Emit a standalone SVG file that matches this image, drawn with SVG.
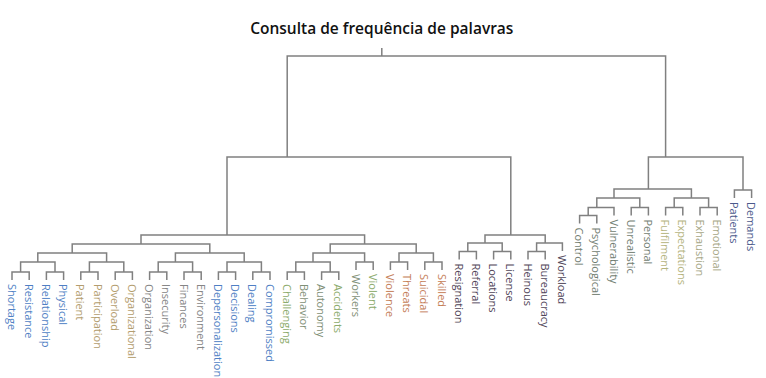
<svg xmlns="http://www.w3.org/2000/svg" width="766" height="378" viewBox="0 0 766 378">
<style>
.bg{fill:#ffffff}
.ln{fill:none;stroke:#808080;stroke-width:1.5;stroke-linejoin:miter}
.title{font-family:"Open Sans","Noto Sans","DejaVu Sans",sans-serif;font-weight:600;font-size:15.5px;fill:#111111}
.lbl{font-family:"Open Sans","Noto Sans","DejaVu Sans",sans-serif;font-size:11px}
.blue{fill:#4f7fc4}
.tan{fill:#b39d6e}
.gray{fill:#858585}
.lgreen{fill:#8cab6c}
.ggreen{fill:#7f9077}
.orange{fill:#c47d57}
.purple{fill:#4f4457}
.sage{fill:#717d71}
.olive{fill:#b5b47e}
.olive2{fill:#a7a786}
.navy{fill:#4c5a8c}
</style>
<rect class="bg" x="0" y="0" width="766" height="378"/>
<g id="title">
<text class="title" x="381.8" y="34" text-anchor="middle">Consulta de frequência de palavras</text>
</g>
<g id="connectors" class="ln">
<path d="M381.8 48V56M287.2 157V56H665.6V157"/>
<path d="M227 235V157H510.8V235"/>
<path d="M648.4 189V157H743V190"/>
<path d="M141 244V235H364.6V244"/>
<path d="M485 243V235H545.2V243"/>
<path d="M72.2 253V244H209.8V253"/>
<path d="M330.2 253V244H416.2V253"/>
<path d="M37.8 262V253H106.6V262"/>
<path d="M175.4 262V253H244.2V262"/>
<path d="M313 262V253H364.6V262"/>
<path d="M399 262V253H433.4V262"/>
<path d="M20.6 272V262H55V272"/>
<path d="M89.4 272V262H123.8V272"/>
<path d="M158.2 272V262H192.6V272"/>
<path d="M227 272V262H261.4V272"/>
<path d="M295.8 272V262H330.2V272"/>
<path d="M356 270V262H373.2V270"/>
<path d="M390.4 270V262H407.6V270"/>
<path d="M424.8 270V262H442V270"/>
<path d="M12 280V272H29.2V280"/>
<path d="M46.4 280V272H63.6V280"/>
<path d="M80.8 280V272H98V280"/>
<path d="M115.2 280V272H132.4V280"/>
<path d="M149.6 280V272H166.8V280"/>
<path d="M184 280V272H201.2V280"/>
<path d="M218.4 280V272H235.6V280"/>
<path d="M252.8 280V272H270V280"/>
<path d="M287.2 280V272H304.4V280"/>
<path d="M321.6 280V272H338.8V280"/>
<path d="M467.8 251.5V243H502.2V251.5"/>
<path d="M536.6 251.5V243H562.4V251"/>
<path d="M459.2 259.5V251.5H476.4V259.5"/>
<path d="M493.6 259.5V251.5H510.8V259.5"/>
<path d="M528 259.5V251.5H545.2V259.5"/>
<path d="M614 198V189H691.4V198"/>
<path d="M734.4 198V190H751.6V198"/>
<path d="M596.8 207.5V198H639.8V207.5"/>
<path d="M674.2 207.5V198H708.6V207.5"/>
<path d="M588.2 215.5V207.5H614V215.5"/>
<path d="M631.2 215.5V207.5H648.4V215.5"/>
<path d="M665.6 215.5V207.5H682.8V215.5"/>
<path d="M700 215.5V207.5H717.2V215.5"/>
<path d="M579.6 223.5V215.5H596.8V223.5"/>
</g>
<g id="leaves" class="lbl">
<g id="n-shortage"><text class="blue" transform="translate(7.5,284) rotate(90)">Shortage</text></g>
<g id="n-resistance"><text class="blue" transform="translate(24.7,284) rotate(90)">Resistance</text></g>
<g id="n-relationship"><text class="blue" transform="translate(41.9,284) rotate(90)">Relationship</text></g>
<g id="n-physical"><text class="blue" transform="translate(59.1,284) rotate(90)">Physical</text></g>
<g id="n-patient"><text class="tan" transform="translate(76.3,284) rotate(90)">Patient</text></g>
<g id="n-participation"><text class="tan" transform="translate(93.5,284) rotate(90)">Participation</text></g>
<g id="n-overload"><text class="tan" transform="translate(110.7,284) rotate(90)">Overload</text></g>
<g id="n-organizational"><text class="tan" transform="translate(127.9,284) rotate(90)">Organizational</text></g>
<g id="n-organization"><text class="gray" transform="translate(145.1,284) rotate(90)">Organization</text></g>
<g id="n-insecurity"><text class="gray" transform="translate(162.3,284) rotate(90)">Insecurity</text></g>
<g id="n-finances"><text class="gray" transform="translate(179.5,284) rotate(90)">Finances</text></g>
<g id="n-environment"><text class="gray" transform="translate(196.7,284) rotate(90)">Environment</text></g>
<g id="n-depersonalization"><text class="blue" transform="translate(213.9,284) rotate(90)">Depersonalization</text></g>
<g id="n-decisions"><text class="blue" transform="translate(231.1,284) rotate(90)">Decisions</text></g>
<g id="n-dealing"><text class="blue" transform="translate(248.3,284) rotate(90)">Dealing</text></g>
<g id="n-compromissed"><text class="blue" transform="translate(265.5,284) rotate(90)">Compromissed</text></g>
<g id="n-challenging"><text class="lgreen" transform="translate(282.7,284) rotate(90)">Challenging</text></g>
<g id="n-behavior"><text class="ggreen" transform="translate(299.9,284) rotate(90)">Behavior</text></g>
<g id="n-autonomy"><text class="ggreen" transform="translate(317.1,284) rotate(90)">Autonomy</text></g>
<g id="n-accidents"><text class="lgreen" transform="translate(334.3,284) rotate(90)">Accidents</text></g>
<g id="n-workers"><text class="ggreen" transform="translate(351.5,274) rotate(90)">Workers</text></g>
<g id="n-violent"><text class="lgreen" transform="translate(368.7,274) rotate(90)">Violent</text></g>
<g id="n-violence"><text class="orange" transform="translate(385.9,274) rotate(90)">Violence</text></g>
<g id="n-threats"><text class="orange" transform="translate(403.1,274) rotate(90)">Threats</text></g>
<g id="n-suicidal"><text class="orange" transform="translate(420.3,274) rotate(90)">Suicidal</text></g>
<g id="n-skilled"><text class="orange" transform="translate(437.5,274) rotate(90)">Skilled</text></g>
<g id="n-resignation"><text class="purple" transform="translate(454.7,263.5) rotate(90)">Resignation</text></g>
<g id="n-referral"><text class="purple" transform="translate(471.9,263.5) rotate(90)">Referral</text></g>
<g id="n-locations"><text class="purple" transform="translate(489.1,263.5) rotate(90)">Locations</text></g>
<g id="n-license"><text class="purple" transform="translate(506.3,263.5) rotate(90)">License</text></g>
<g id="n-heinous"><text class="purple" transform="translate(523.5,263.5) rotate(90)">Heinous</text></g>
<g id="n-bureaucracy"><text class="purple" transform="translate(540.7,263.5) rotate(90)">Bureaucracy</text></g>
<g id="n-workload"><text class="purple" transform="translate(557.9,255) rotate(90)">Workload</text></g>
<g id="n-control"><text class="sage" transform="translate(575.1,227.5) rotate(90)">Control</text></g>
<g id="n-psychological"><text class="sage" transform="translate(592.3,227.5) rotate(90)">Psychological</text></g>
<g id="n-vulnerability"><text class="sage" transform="translate(609.5,219.5) rotate(90)">Vulnerability</text></g>
<g id="n-unrealistic"><text class="sage" transform="translate(626.7,219.5) rotate(90)">Unrealistic</text></g>
<g id="n-personal"><text class="sage" transform="translate(643.9,219.5) rotate(90)">Personal</text></g>
<g id="n-fulfilment"><text class="olive" transform="translate(661.1,219.5) rotate(90)">Fulfilment</text></g>
<g id="n-expectations"><text class="olive" transform="translate(678.3,219.5) rotate(90)">Expectations</text></g>
<g id="n-exhaustion"><text class="olive2" transform="translate(695.5,219.5) rotate(90)">Exhaustion</text></g>
<g id="n-emotional"><text class="olive2" transform="translate(712.7,219.5) rotate(90)">Emotional</text></g>
<g id="n-patients"><text class="navy" transform="translate(729.9,202) rotate(90)">Patients</text></g>
<g id="n-demands"><text class="navy" transform="translate(747.1,202) rotate(90)">Demands</text></g>
</g>
</svg>
